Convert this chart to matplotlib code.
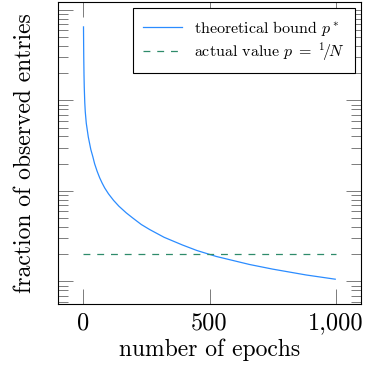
import matplotlib
matplotlib.use("Agg")
import matplotlib.pyplot as plt
from matplotlib.ticker import LogLocator, NullFormatter, FixedLocator, FuncFormatter

plt.rcParams['font.family'] = ['cmr10', 'DejaVu Serif']
plt.rcParams['mathtext.fontset'] = 'cm'
plt.rcParams['axes.unicode_minus'] = False

# curve (epoch, fraction)
epochs = [1, 1.5, 2, 3, 4, 6, 8, 12, 20, 30, 38, 45, 55, 65, 75, 85, 100, 120, 141,
          170, 196, 230, 263, 320, 393, 450, 527, 659, 750, 883, 998]
bound = [0.65, 0.42, 0.30, 0.19, 0.14, 0.095, 0.075, 0.056, 0.0395, 0.0287, 0.0239,
         0.020, 0.0165, 0.014, 0.0122, 0.0108, 0.0093, 0.00788, 0.0068, 0.00574,
         0.00503, 0.00426, 0.00375, 0.00308, 0.00253, 0.0022, 0.00189, 0.00154,
         0.00137, 0.00118, 0.00106]
actual_x = [0, 1000]
actual_p = [0.002, 0.002]
xticks = [0, 500, 1000]

fig = plt.figure(figsize=(3.66, 3.71), dpi=100)
ax = fig.add_axes([58 / 366, 67 / 371, 303 / 366, 302 / 371])

ax.plot(epochs, bound, color='#2b8cff', lw=0.9, label=r'theoretical bound $p^*$')
ax.plot(actual_x, actual_p, color='#2e8b6a', lw=0.9, dashes=(5.5, 5.5),
        label=r'actual value $p\;=\;{}^{1}\!/\!N$')

ax.set_yscale('log')
ax.set_xlim(-100, 1100)
ax.set_ylim(5.64e-4, 1.225)
ax.xaxis.set_major_locator(FixedLocator(xticks))
ax.xaxis.set_major_formatter(FuncFormatter(lambda v, _: f'{int(v):,}'))
ax.yaxis.set_major_locator(LogLocator(base=10, numticks=10))
ax.yaxis.set_minor_locator(LogLocator(base=10, subs=range(2, 10), numticks=20))
ax.yaxis.set_major_formatter(NullFormatter())
ax.yaxis.set_minor_formatter(NullFormatter())

ax.tick_params(which='both', direction='in', top=True, right=True, color='#666666', width=0.6)
ax.tick_params(which='major', length=11, labelsize=17.5, pad=6)
ax.tick_params(which='minor', length=7)
for s in ax.spines.values():
    s.set_linewidth(0.8)

ax.set_xlabel('number of epochs', fontsize=17, labelpad=3)
ax.set_ylabel('fraction of observed entries', fontsize=17, labelpad=10)

leg = ax.legend(loc='upper right', fontsize=11.5, frameon=True, fancybox=False,
                edgecolor='black', framealpha=1, borderaxespad=0.4,
                handlelength=2.45, handletextpad=0.7, borderpad=0.66, labelspacing=0.15)
leg.get_frame().set_linewidth(0.8)

fig.savefig('out.png', dpi=100)
